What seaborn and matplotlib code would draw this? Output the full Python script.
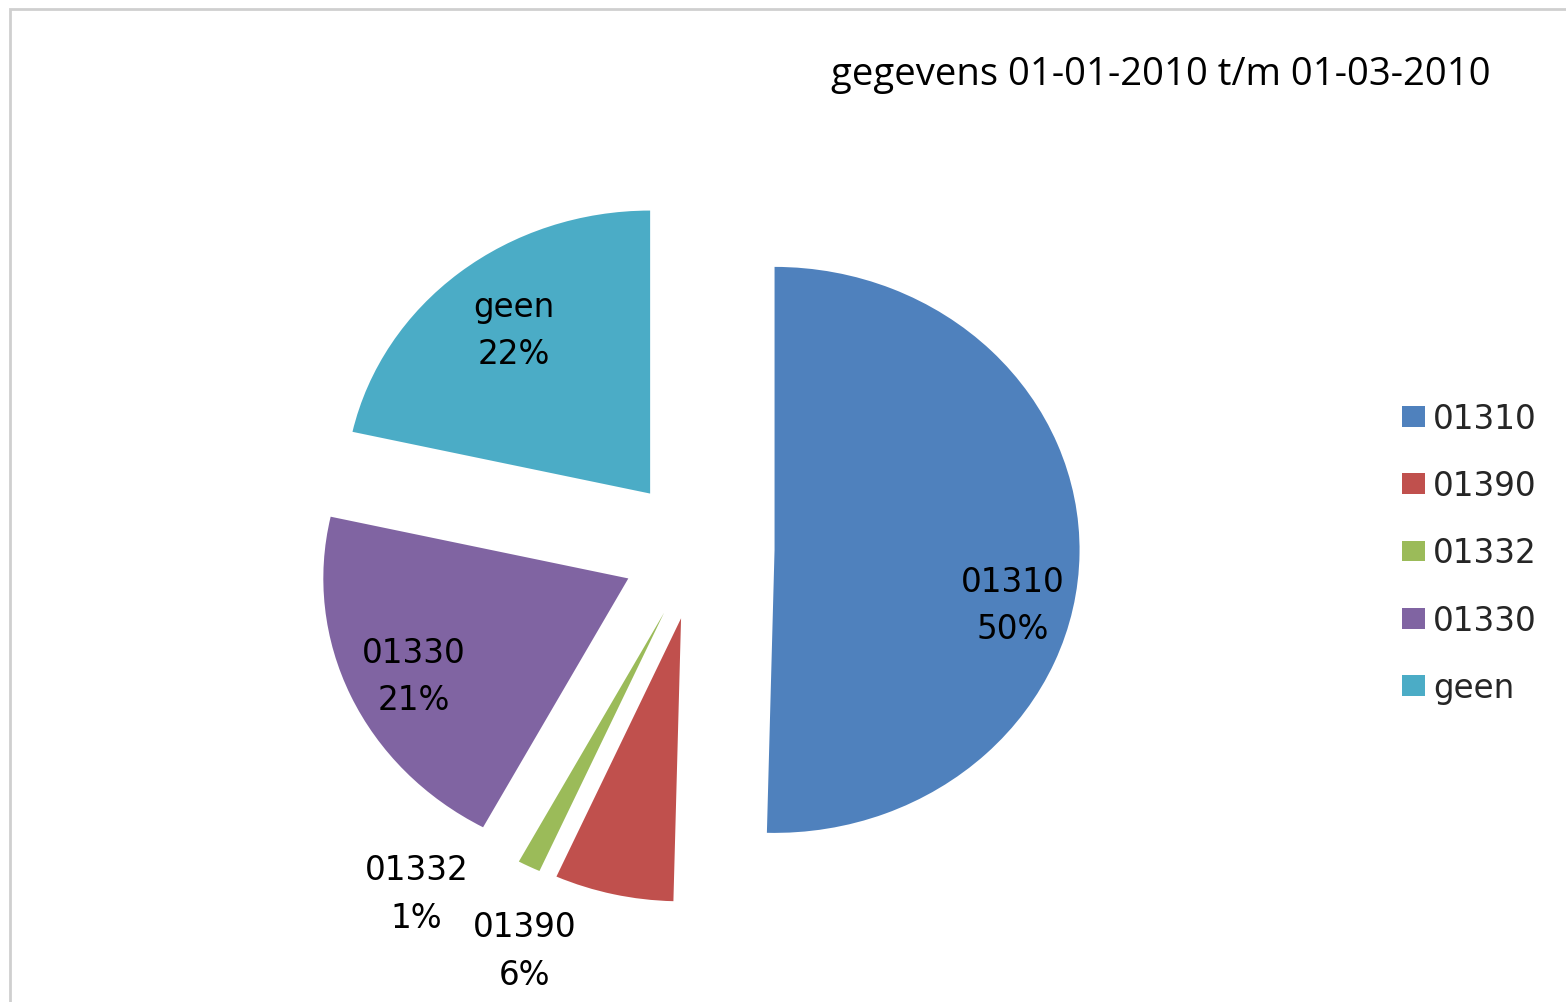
import numpy as np
import seaborn as sns
import matplotlib.pyplot as plt
from matplotlib.patches import Patch, Rectangle

# --------------------------
# Data
# --------------------------
categories = ["01310", "01390", "01332", "01330", "geen"]
shares = [50.4, 6.3, 1.2, 20.6, 21.5]
colors = ["#4F81BD", "#C0504D", "#9BBB59", "#8064A2", "#4BACC6"]
title = "gegevens 01-01-2010 t/m 01-03-2010"

# label placement (radius fraction, angle offset in degrees)
label_dist = [1.05, 1.52, 1.52, 1.03, 0.99]
label_shift = [-9.6, -9.2, -11.1, 0.75, -1.1]

sns.set_theme(style="white")
plt.rcParams["font.family"] = ["DejaVu Sans"]

W, H = 1566, 1003
fig = plt.figure(figsize=(W / 100, H / 100), dpi=100)
fig.patch.set_facecolor("white")

# pie centre and (slightly stretched) radii in pixels
cx, cy, Rx, Ry = 698, 550, 305, 283
ax = fig.add_axes([0, 0, 1, 1])

wedges, _ = ax.pie(shares, colors=colors, startangle=90, counterclock=False,
                   explode=[0.251] * len(shares), radius=1,
                   wedgeprops=dict(linewidth=0))
ax.set_xlim(-cx / Rx, (W - cx) / Rx)
ax.set_ylim(-(H - cy) / Ry, cy / Ry)
ax.set_aspect("auto")
ax.axis("off")

# data labels
for w, cat, val, d, s in zip(wedges, categories, shares, label_dist, label_shift):
    ang = np.deg2rad((w.theta1 + w.theta2) / 2 + s)
    ax.text(d * np.cos(ang), d * np.sin(ang) - 0.01, f"{cat}\n{int(val + 0.5)}%",
            ha="center", va="center", fontsize=23.5, linespacing=1.56,
            color="black")

# title
fig.text(1161 / W, 1 - 75 / H, title, ha="center", va="center",
         fontsize=27.5, family=["Open Sans"], color="black")

# legend
handles = [Patch(facecolor=c, edgecolor="none") for c in colors]
leg = fig.legend(handles, categories, loc="center left",
                 bbox_to_anchor=(1386 / W, 1 - 554 / H), frameon=False,
                 fontsize=23.5, handlelength=0.7, handleheight=0.61,
                 handletextpad=0.25, labelspacing=1.05, borderpad=0)

# chart frame
fig.patches.append(Rectangle((10 / W, -0.1), 1.2, 1 - 10 / H + 0.1,
                             transform=fig.transFigure, fill=False,
                             edgecolor="#cfcfcf", linewidth=2))

plt.savefig("out.png", dpi=100)
